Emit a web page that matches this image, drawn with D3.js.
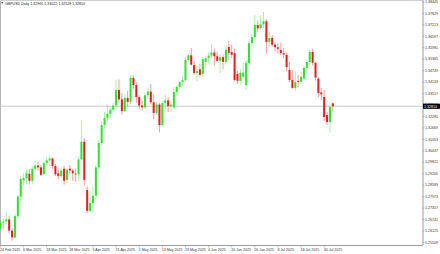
<!DOCTYPE html>
<html>
<head>
<meta charset="utf-8">
<script src="https://cdn.jsdelivr.net/npm/d3@7"></script>
<style>
html, body { margin: 0; padding: 0; background: #fff; }
svg { display: block; font-family: "Liberation Sans", Arial, sans-serif; }
</style>
</head>
<body>
<svg id="chart" width="440" height="254"></svg>
<script>
var symbol = "GBPUSD,Daily";

var dates = [
  "2025-02-24","2025-02-25","2025-02-26","2025-02-27","2025-02-28",
  "2025-03-03","2025-03-04","2025-03-05","2025-03-06","2025-03-07",
  "2025-03-10","2025-03-11","2025-03-12","2025-03-13","2025-03-14",
  "2025-03-17","2025-03-18","2025-03-19","2025-03-20","2025-03-21",
  "2025-03-24","2025-03-25","2025-03-26","2025-03-27","2025-03-28",
  "2025-03-31","2025-04-01","2025-04-02","2025-04-03","2025-04-04",
  "2025-04-07","2025-04-08","2025-04-09","2025-04-10","2025-04-11",
  "2025-04-14","2025-04-15","2025-04-16","2025-04-17","2025-04-18",
  "2025-04-21","2025-04-22","2025-04-23","2025-04-24","2025-04-25",
  "2025-04-28","2025-04-29","2025-04-30","2025-05-01","2025-05-02",
  "2025-05-05","2025-05-06","2025-05-07","2025-05-08","2025-05-09",
  "2025-05-12","2025-05-13","2025-05-14","2025-05-15","2025-05-16",
  "2025-05-19","2025-05-20","2025-05-21","2025-05-22","2025-05-23",
  "2025-05-26","2025-05-27","2025-05-28","2025-05-29","2025-05-30",
  "2025-06-02","2025-06-03","2025-06-04","2025-06-05","2025-06-06",
  "2025-06-09","2025-06-10","2025-06-11","2025-06-12","2025-06-13",
  "2025-06-16","2025-06-17","2025-06-18","2025-06-19","2025-06-20",
  "2025-06-23","2025-06-24","2025-06-25","2025-06-26","2025-06-27",
  "2025-06-30","2025-07-01","2025-07-02","2025-07-03","2025-07-04",
  "2025-07-07","2025-07-08","2025-07-09","2025-07-10","2025-07-11",
  "2025-07-14","2025-07-15","2025-07-16","2025-07-17","2025-07-18",
  "2025-07-21","2025-07-22","2025-07-23","2025-07-24","2025-07-25",
  "2025-07-28","2025-07-29","2025-07-30","2025-07-31","2025-08-01",
  "2025-08-04"
];

var open = [
  1.2625,1.2655,1.2662,1.2672,1.2612, 1.2575,1.2690,1.2795,1.2882,1.2895,
  1.2918,1.2880,1.2945,1.2962,1.2952, 1.2915,1.2975,1.2990,1.3000,1.2960,
  1.2920,1.2905,1.2945,1.2885,1.2945, 1.2935,1.2918,1.2915,1.2995,1.3090,
  1.2830,1.2718,1.2760,1.2800,1.2952, 1.3083,1.3180,1.3218,1.3240,1.3262,
  1.3285,1.3368,1.3318,1.3255,1.3325, 1.3305,1.3433,1.3395,1.3330,1.3285,
  1.3275,1.3340,1.3360,1.3302,1.3245, 1.3290,1.3180,1.3298,1.3312,1.3282,
  1.3275,1.3358,1.3385,1.3412,1.3422, 1.3530,1.3555,1.3503,1.3460,1.3480,
  1.3455,1.3520,1.3540,1.3553,1.3570, 1.3550,1.3525,1.3545,1.3520,1.3600,
  1.3572,1.3567,1.3455,1.3418,1.3440, 1.3395,1.3514,1.3621,1.3653,1.3718,
  1.3700,1.3722,1.3738,1.3627,1.3648, 1.3612,1.3598,1.3583,1.3567,1.3557,
  1.3476,1.3422,1.3379,1.3418,1.3412, 1.3430,1.3487,1.3519,1.3573,1.3515,
  1.3430,1.3355,1.3331,1.3234,1.3196, 1.32965
];
var high = [
  1.2672,1.2680,1.2715,1.2690,1.2625, 1.2702,1.2805,1.2905,1.2920,1.2945,
  1.2945,1.2960,1.2990,1.2985,1.2965, 1.2985,1.3005,1.3015,1.3005,1.2970,
  1.2945,1.2950,1.2960,1.2950,1.2965, 1.2945,1.2945,1.3010,1.3207,1.3110,
  1.2850,1.2825,1.2850,1.2965,1.3100, 1.3200,1.3250,1.3290,1.3280,1.3300,
  1.3423,1.3425,1.3350,1.3345,1.3365, 1.3445,1.3445,1.3410,1.3340,1.3310,
  1.3355,1.3380,1.3400,1.3345,1.3305, 1.3300,1.3310,1.3345,1.3330,1.3310,
  1.3385,1.3395,1.3415,1.3445,1.3545, 1.3560,1.3595,1.3525,1.3500,1.3510,
  1.3545,1.3550,1.3570,1.3616,1.3590, 1.3575,1.3560,1.3560,1.3612,1.3632,
  1.3615,1.3590,1.3470,1.3480,1.3515, 1.3530,1.3640,1.3670,1.3770,1.3742,
  1.3770,1.3788,1.3750,1.3680,1.3665, 1.3625,1.3620,1.3625,1.3595,1.3570,
  1.3520,1.3475,1.3468,1.3450,1.3465, 1.3500,1.3530,1.3588,1.3590,1.3520,
  1.3440,1.3380,1.3370,1.3250,1.3285, 1.33022
];
var low = [
  1.2612,1.2620,1.2645,1.2595,1.2558, 1.2570,1.2675,1.2770,1.2855,1.2860,
  1.2860,1.2865,1.2930,1.2935,1.2905, 1.2910,1.2965,1.2960,1.2945,1.2905,
  1.2890,1.2895,1.2860,1.2870,1.2915, 1.2880,1.2875,1.2880,1.2990,1.2855,
  1.2708,1.2710,1.2710,1.2785,1.2945, 1.3070,1.3160,1.3200,1.3215,1.3250,
  1.3275,1.3300,1.3235,1.3250,1.3280, 1.3290,1.3375,1.3300,1.3265,1.3255,
  1.3265,1.3320,1.3290,1.3210,1.3235, 1.3140,1.3170,1.3265,1.3250,1.3250,
  1.3265,1.3340,1.3370,1.3390,1.3415, 1.3520,1.3500,1.3450,1.3415,1.3440,
  1.3440,1.3485,1.3510,1.3540,1.3500, 1.3520,1.3460,1.3480,1.3505,1.3530,
  1.3540,1.3415,1.3400,1.3398,1.3430, 1.3370,1.3500,1.3600,1.3640,1.3680,
  1.3690,1.3700,1.3565,1.3600,1.3600, 1.3575,1.3565,1.3555,1.3540,1.3470,
  1.3410,1.3375,1.3365,1.3382,1.3400, 1.3420,1.3460,1.3500,1.3500,1.3420,
  1.3330,1.3315,1.3200,1.3180,1.3137, 1.32528
];
var close = [
  1.2655,1.2662,1.2672,1.2612,1.2575, 1.2690,1.2795,1.2890,1.2895,1.2920,
  1.2880,1.2945,1.2962,1.2952,1.2912, 1.2975,1.2990,1.3000,1.2960,1.2915,
  1.2905,1.2935,1.2880,1.2940,1.2935, 1.2920,1.2915,1.2995,1.3090,1.2885,
  1.2718,1.2760,1.2800,1.2952,1.3083, 1.3180,1.3218,1.3240,1.3262,1.3285,
  1.3368,1.3318,1.3255,1.3325,1.3305, 1.3433,1.3395,1.3330,1.3285,1.3275,
  1.3340,1.3360,1.3302,1.3245,1.3290, 1.3180,1.3298,1.3312,1.3282,1.3290,
  1.3358,1.3385,1.3412,1.3422,1.3530, 1.3555,1.3505,1.3460,1.3470,1.3450,
  1.3535,1.3540,1.3553,1.3570,1.3550, 1.3525,1.3545,1.3520,1.3585,1.3568,
  1.3558,1.3422,1.3418,1.3460,1.3462, 1.3514,1.3621,1.3653,1.3718,1.3700,
  1.3722,1.3738,1.3627,1.3648,1.3612, 1.3598,1.3590,1.3567,1.3560,1.3492,
  1.3422,1.3379,1.3412,1.3412,1.3440, 1.3487,1.3519,1.3573,1.3515,1.3435,
  1.3352,1.3345,1.3223,1.3196,1.3277, 1.32810
];

var yTickLabels = [
  1.38445,1.37829,1.37213,1.36597,1.35981,1.35365,1.34749,1.34133,
  1.33517,1.32901,1.32285,1.31669,1.31053,1.30437,1.29821,1.29205,
  1.28589,1.27973,1.27357,1.26741,1.26125,1.25509
];

var width = 440, height = 254,
    plotRight = 422.5, plotBottom = 245.5,
    barStep = 2.89, bodyW = 2;

var parse = d3.timeParse("%Y-%m-%d"),
    fmtDate = d3.timeFormat("%-d %b %Y"),
    fmtPrice = d3.format(".5f");

var data = dates.map(function(d, i) {
  return {date: d, o: open[i], h: high[i], l: low[i], c: close[i]};
});
var last = data[data.length - 1];

var x = d3.scaleBand()
    .domain(dates)
    .range([-0.945, -0.945 + dates.length * barStep]);

var y = d3.scaleLinear()
    .domain([1.25291, 1.38526])
    .range([246, 0]);

var svg = d3.select("#chart");

// frame
svg.append("line")
    .attr("x1", 0.5).attr("x2", 0.5).attr("y1", 0).attr("y2", plotBottom)
    .attr("stroke", "#b4b4b4").attr("stroke-width", 1);
svg.append("line")
    .attr("x1", 0).attr("x2", plotRight).attr("y1", 0.5).attr("y2", 0.5)
    .attr("stroke", "#cfcfcf").attr("stroke-width", 1);

// current price line
svg.append("line")
    .attr("x1", 0).attr("x2", plotRight)
    .attr("y1", y(last.c)).attr("y2", y(last.c))
    .attr("stroke", "#c4c4c4").attr("stroke-width", 0.9);

var up = "#2ee32e", down = "#e61c1c";

var candle = svg.append("g").selectAll("g")
    .data(data)
  .enter().append("g");

candle.append("line")
    .attr("x1", function(d) { return x(d.date) + x.bandwidth() / 2; })
    .attr("x2", function(d) { return x(d.date) + x.bandwidth() / 2; })
    .attr("y1", function(d) { return y(d.h); })
    .attr("y2", function(d) { return y(d.l); })
    .attr("stroke", function(d) { return d.c >= d.o ? up : down; })
    .attr("stroke-opacity", 0.55)
    .attr("stroke-width", 0.8);

candle.append("rect")
    .attr("x", function(d) { return x(d.date) + x.bandwidth() / 2 - bodyW / 2; })
    .attr("y", function(d) { return y(Math.max(d.o, d.c)); })
    .attr("width", bodyW)
    .attr("height", function(d) { return Math.max(0.7, Math.abs(y(d.o) - y(d.c))); })
    .attr("fill", function(d) { return d.c >= d.o ? up : down; });

// price axis
var yAxis = d3.axisRight(y)
    .tickValues(yTickLabels)
    .tickFormat(fmtPrice)
    .tickSize(2)
    .tickPadding(0.5);

var gy = svg.append("g")
    .attr("transform", "translate(" + plotRight + ",0)")
    .call(yAxis);
gy.select(".domain").attr("stroke", "#9a9a9a").attr("d", "M0.5,0V" + plotBottom);
gy.selectAll(".tick line").attr("stroke", "#9a9a9a").attr("stroke-width", 0.6);
gy.selectAll("text").attr("font-size", 3.6).attr("fill", "#333");

// time axis
var xAxis = d3.axisBottom(x)
    .tickValues(dates.filter(function(d, i) { return i % 8 === 0; }))
    .tickFormat(function(d) { return fmtDate(parse(d)); })
    .tickSize(2)
    .tickPadding(0.5);

var gx = svg.append("g")
    .attr("transform", "translate(0," + plotBottom + ")")
    .call(xAxis);
gx.select(".domain").attr("stroke", "#9a9a9a").attr("d", "M0," + 0 + "H" + (plotRight + 0.5));
gx.selectAll(".tick line").attr("stroke", "#9a9a9a").attr("stroke-width", 0.6);
gx.selectAll("text")
    .attr("font-size", 3.6)
    .attr("fill", "#333")
    .attr("text-anchor", "start")
    .attr("x", -0.5);

// current price box
var py = y(last.c);
svg.append("rect")
    .attr("x", plotRight + 0.5).attr("y", py - 2.6)
    .attr("width", 17).attr("height", 5.2)
    .attr("fill", "#000");
svg.append("text")
    .attr("x", plotRight + 1.6).attr("y", py)
    .attr("dy", "0.35em")
    .attr("font-size", 3.6)
    .attr("fill", "#fff")
    .text(fmtPrice(last.c));

// title
svg.append("path")
    .attr("d", "M1,2.2H3.6L2.3,3.8Z")
    .attr("fill", "#222");
svg.append("text")
    .attr("x", 5).attr("y", 4.6)
    .attr("font-size", 3.6)
    .attr("fill", "#222")
    .text(symbol + "  " + [last.o, last.h, last.l, last.c].map(fmtPrice).join(" "));
</script>
</body>
</html>
